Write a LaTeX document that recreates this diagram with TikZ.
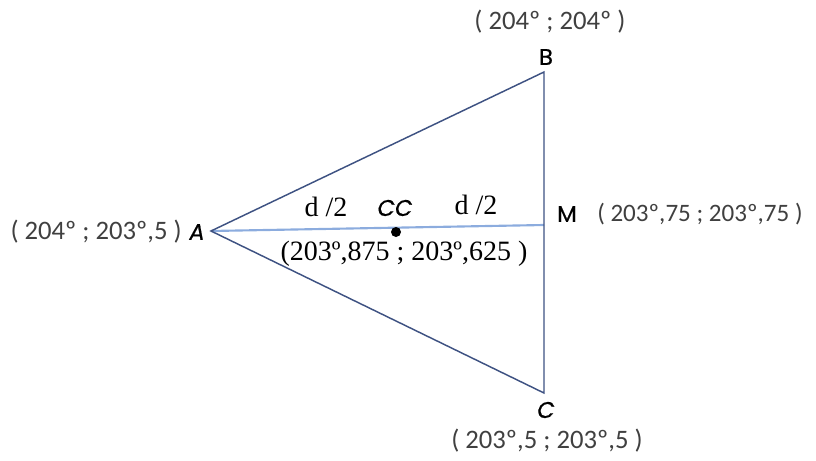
\documentclass[tikz,border=0pt]{standalone}
\usepackage{fontspec}
\setmainfont{Liberation Serif}
\newfontfamily\calfont{Carlito}
\newfontfamily\ptfont[FakeBold=0.6]{Poppins}
\definecolor{edgecol}{RGB}{62,82,130}
\definecolor{medcol}{RGB}{140,172,222}
\definecolor{txtgray}{RGB}{64,64,64}
\begin{document}
\begin{tikzpicture}[x=0.75pt,y=-0.75pt,
  coordtxt/.style={font=\calfont\fontsize{20}{24}\selectfont, text=txtgray, inner sep=0pt},
  midtxt/.style={font=\fontsize{21}{25}\selectfont, inner sep=0pt},
  ptlabel/.style={font=\ptfont\fontsize{17}{20}\selectfont, inner sep=0pt},
  edge/.style={draw=edgecol, line width=1.1pt},
  median/.style={draw=medcol, line width=1.6pt}]
\useasboundingbox (0,0) rectangle (816,460);
\coordinate (A) at (211,231);
\coordinate (B) at (544,72);
\coordinate (C) at (544,393);
\coordinate (M) at (544,225);
\draw[median] (A) -- (M);
\draw[edge] (A) -- (B) -- (C) -- cycle;
\fill (396,232) circle (5) coordinate (CCdot);
\node[ptlabel] (lB) at (546,57) {B};
\node[ptlabel] (lC) at (546,410) {\itshape C};
\node[ptlabel] (lA) at (197,232) {\itshape A};
\node[ptlabel] (lM) at (567,214) {M};
\node[ptlabel] (lCC) at (395,208) {\itshape CC};
\node[coordtxt] (tB) at (550,22) {( 204º ; 204º )};
\node[coordtxt] (tC) at (547,441) {( 203º,5 ; 203º,5 )};
\node[coordtxt, anchor=east] (tA) at (182,232) {( 204º ; 203º,5 )};
\node[coordtxt, anchor=west, font=\calfont\fontsize{18.8}{22}\selectfont] (tM) at (597,214) {( 203º,75 ; 203º,75 )};
\node[midtxt] (d1) at (326,207) {d /2};
\node[midtxt] (d2) at (476,205) {d /2};
\node[midtxt] (tCC) at (404,254) {(203º,875 ; 203º,625 )};
\end{tikzpicture}
\end{document}
